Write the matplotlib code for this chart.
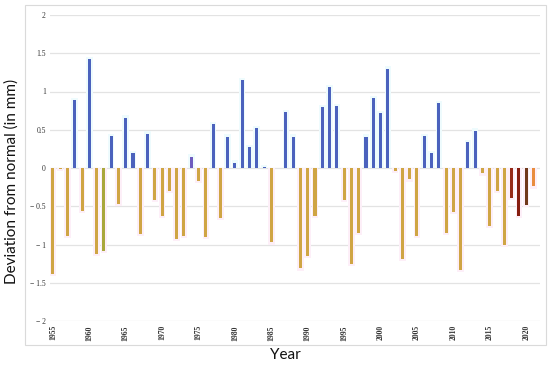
"""Annual deviation from normal, bar chart."""
import matplotlib
matplotlib.use("Agg")
import matplotlib.pyplot as plt
from matplotlib.patches import Rectangle
import numpy as np

years = list(range(1955, 2022))
deviation = [
    -1.38, -0.01, -0.89, 0.89, -0.56, 1.42, -1.12, -1.08, 0.42, -0.47,
    0.66, 0.19, -0.86, 0.45, -0.42, -0.63, -0.30, -0.93, -0.89, 0.15,
    -0.17, -0.90, 0.57, -0.65, 0.41, 0.07, 1.15, 0.27, 0.52, 0.01,
    -0.97, 0.00, 0.73, 0.41, -1.31, -1.15, -0.63, 0.80, 1.06, 0.81,
    -0.42, -1.25, -0.85, 0.41, 0.91, 0.72, 1.30, -0.04, -1.19, -0.15,
    -0.89, 0.42, 0.19, 0.85, -0.85, -0.57, -1.33, 0.34, 0.49, -0.07,
    -0.76, -0.30, -1.00, -0.39, -0.63, -0.48, -0.24,
]
# years drawn in odd colours in the source picture
special_colors = {1962: "#A9A83C", 1974: "#6E5CBE", 2018: "#962A18",
                  2019: "#861E10", 2020: "#70391A", 2021: "#E98C3E"}
ytick_vals = [-2, -1.5, -1, -0.5, 0, 0.5, 1, 1.5, 2]
xtick_vals = list(range(1955, 2021, 5))

POS = "#4B62BD"
NEG = "#CFA544"

colors = []
halo = []
for y, v in zip(years, deviation):
    if y in special_colors:
        colors.append(special_colors[y])
    else:
        colors.append(POS if v >= 0 else NEG)
    halo.append("#EEFBFD" if v >= 0 else "#FDEFF8")

fig = plt.figure(figsize=(5.5, 3.65), dpi=100)
fig.patches.append(Rectangle((25 / 550, 1 - 345 / 365), 521 / 550, 340 / 365,
                             transform=fig.transFigure, fill=False,
                             edgecolor="#DADADA", linewidth=0.8))
ax = fig.add_axes([50 / 550, 1 - 321 / 365, 490 / 550, 306 / 365])

x = np.array(years, dtype=float)
vals = np.array(deviation)
ax.bar(x, vals + np.sign(vals) * 0.03, width=0.9, color=halo, zorder=1)
ax.bar(x, vals, width=0.42, color=colors, zorder=3)

ax.set_xlim(1954.6, 2021.9)
ax.set_ylim(-2, 2)
ax.set_yticks(ytick_vals)
ax.set_yticklabels([f"{v:g}".replace("-", "\u2212 ") for v in ytick_vals],
                   fontsize=5.5, family="Liberation Serif", color="#333333")
ax.set_xticks(xtick_vals)
ax.set_xticklabels([str(v) for v in xtick_vals], rotation=90, fontsize=5.5,
                   family="Liberation Serif", fontweight="bold", color="#333333")
ax.tick_params(length=0, pad=3)
ax.grid(axis="y", color="#E3E3E3", linewidth=0.9, zorder=0)
ax.set_axisbelow(True)
for s in ax.spines.values():
    s.set_visible(False)

fig.text(12 / 550, 1 - 181 / 365, "Deviation from normal (in mm)", rotation=90,
         ha="center", va="center", fontsize=11, family="Lato", color="#111111")
fig.text(285 / 550, 1 - 355 / 365, "Year", ha="center", va="center",
         fontsize=11, family="Lato", color="#111111")

fig.savefig("out.png", dpi=100)
plt.close(fig)
